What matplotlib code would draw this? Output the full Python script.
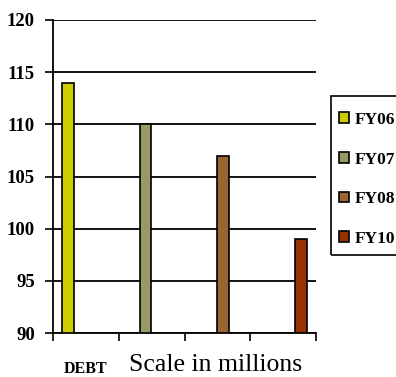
import matplotlib.pyplot as plt
from matplotlib.patches import Rectangle

series = ['FY06', 'FY07', 'FY08', 'FY10']
values = [114, 110, 107, 99]
colors = ['#CCCC00', '#999966', '#996633', '#993300']
category = 'DEBT'
yticks = [90, 95, 100, 105, 110, 115, 120]

plt.rcParams['font.family'] = ['Liberation Serif', 'DejaVu Serif']

W, H = 396, 377
fig = plt.figure(figsize=(W / 100, H / 100), dpi=100)
ax = fig.add_axes([53 / W, 1 - 333 / H, 263 / W, 313 / H])

# bars spread over the single category
for i, (name, v, c) in enumerate(zip(series, values, colors)):
    ax.bar(0.228 + i * 1.18, v - 90, bottom=90, width=0.18, color=c,
           edgecolor='black', linewidth=1.2, label=name, zorder=3)

ax.set_xlim(0, 4)
ax.set_ylim(90, 120)
ax.set_yticks(yticks)
ax.set_yticklabels([str(t) for t in yticks], fontsize=13.5, fontweight='bold')
ax.yaxis.grid(True, color='black', linewidth=1.3)
ax.set_xticks([0, 1, 2, 3, 4])
ax.set_xticklabels([])
ax.tick_params(axis='y', length=6, width=1.2, pad=7)
ax.tick_params(axis='x', length=6, width=1.2)
for s in ['top', 'right']:
    ax.spines[s].set_visible(False)
ax.spines['left'].set_linewidth(1.3)
ax.spines['bottom'].set_linewidth(1.3)

ax.text(0.122, -0.127, category, transform=ax.transAxes, ha='center', va='baseline',
        fontsize=11.5, fontweight='bold')
ax.text(0.62, -0.122, 'Scale in millions', transform=ax.transAxes, ha='center',
        va='baseline', fontsize=18.5)

# legend box
fig.patches.append(Rectangle((331 / W, 1 - 255 / H), 80 / W, 159 / H,
                             transform=fig.transFigure, fill=False,
                             edgecolor='black', linewidth=1.2))
leg = fig.legend(loc='upper left', bbox_to_anchor=(339 / W, 1 - 112 / H), frameon=False,
                 handlelength=0.58, handleheight=0.58, handletextpad=0.35,
                 labelspacing=1.36, borderpad=0, borderaxespad=0,
                 prop={'weight': 'bold', 'size': 12.5})

fig.savefig('out.png', dpi=100)
